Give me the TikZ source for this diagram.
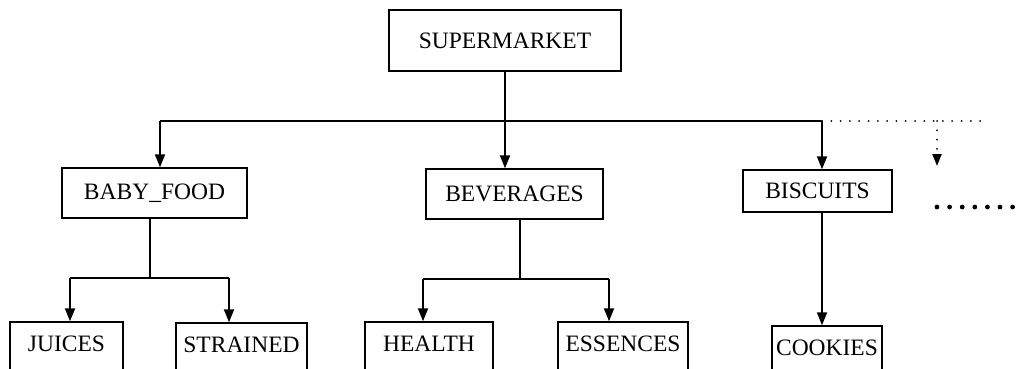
\documentclass[tikz,border=0pt]{standalone}
\usepackage{fontspec}
\setmainfont{Liberation Serif}
\usetikzlibrary{arrows.meta}
\tikzset{
  box/.style={draw, line width=1.4pt, inner sep=0pt, font=\fontsize{23.5}{28}\selectfont},
  leaf/.style={box, minimum height=54pt, text height=16pt, text depth=12pt},
  link/.style={line width=1.8pt},
  arr/.style={link, -{Triangle[length=13pt,width=10pt]}},
  dotline/.style={line width=2pt, line cap=round, dash pattern=on 0pt off 9.3pt},
  dotarr/.style={dotline, -{Triangle[length=12pt,width=9pt]}},
}
\begin{document}
\begin{tikzpicture}[x=1pt,y=-1pt]
\useasboundingbox (0,0) rectangle (1019,369);
\clip (0,0) rectangle (1019,369);

% tree nodes
\node[box, minimum width=232pt, minimum height=61pt] (super) at (505,40.5) {SUPERMARKET};
\node[box, minimum width=185pt, minimum height=50pt] (baby) at (154.5,193) {BABY\_FOOD};
\node[box, minimum width=177pt, minimum height=50pt] (bev) at (514.5,194) {BEVERAGES};
\node[box, minimum width=149pt, minimum height=42pt] (bisc) at (817.5,191) {BISCUITS};
\node[leaf, minimum width=113pt] (juices) at (66.5,349) {JUICES};
\node[leaf, minimum width=131pt] (strained) at (241.5,350) {STRAINED};
\node[leaf, minimum width=128pt] (health) at (429,349) {HEALTH};
\node[leaf, minimum width=130pt] (ess) at (623,349) {ESSENCES};
\node[leaf, minimum width=110pt] (cookies) at (827,353) {COOKIES};

% junction points
\coordinate (hl) at (160,121);
\coordinate (hr) at (822,121);
\coordinate (hend) at (987,121);
\coordinate (hmore) at (937,121);
\coordinate (hmoretip) at (937,166);
\coordinate (bfj) at (150,278);
\coordinate (jL) at (70,278);
\coordinate (jR) at (229,278);
\coordinate (bvj) at (520,279);
\coordinate (vL) at (423,279);
\coordinate (vR) at (609,279);

% first level
\draw[link] (hl) -- (hr);
\draw[arr] (super.south) -- (super.south |- bev.north);
\draw[arr] (hl) -- (hl |- baby.north);
\draw[arr] (hr) -- (hr |- bisc.north);
\draw[dotline] (hr) -- (hend);
\draw[dotarr] (hmore) -- (hmoretip);

% BABY_FOOD children
\draw[link] (bfj |- baby.south) -- (bfj);
\draw[link] (jL) -- (jR);
\draw[arr] (jL) -- (jL |- juices.north);
\draw[arr] (jR) -- (jR |- strained.north);

% BEVERAGES children
\draw[link] (bvj |- bev.south) -- (bvj);
\draw[link] (vL) -- (vR);
\draw[arr] (vL) -- (vL |- health.north);
\draw[arr] (vR) -- (vR |- ess.north);

% BISCUITS child
\draw[arr] (hr |- bisc.south) -- (hr |- cookies.north);

% further categories
\foreach \i in {0,...,6}
  \fill (937+\i*12.6,207) circle (2.4pt);
\end{tikzpicture}
\end{document}
